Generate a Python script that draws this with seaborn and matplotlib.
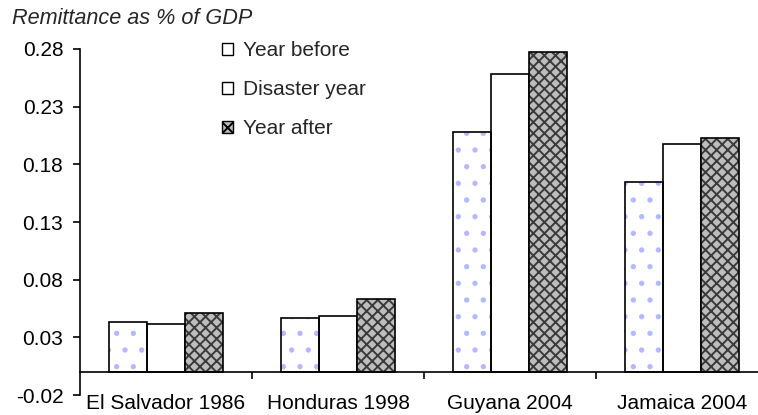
import numpy as np
import pandas as pd
import seaborn as sns
import matplotlib.pyplot as plt
from matplotlib.patches import Patch, Rectangle
from matplotlib.ticker import FormatStrFormatter

# data
countries = ["El Salvador 1986", "Honduras 1998", "Guyana 2004", "Jamaica 2004"]
periods = ["Year before", "Disaster year", "Year after"]
year_before = [0.0436, 0.047, 0.208, 0.165]
disaster_year = [0.0416, 0.0488, 0.2585, 0.1976]
year_after = [0.051, 0.063, 0.277, 0.203]
y_ticks = [-0.02, 0.03, 0.08, 0.13, 0.18, 0.23, 0.28]

df = pd.DataFrame({
    "country": countries * 3,
    "period": np.repeat(periods, len(countries)),
    "value": year_before + disaster_year + year_after,
})

sns.set_theme(style="white")
plt.rcParams["font.family"] = ["Liberation Sans", "DejaVu Sans"]
plt.rcParams["axes.unicode_minus"] = False
plt.rcParams["hatch.linewidth"] = 1.4

# (face, hatch, hatch colour) per period
styles = {
    "Year before": ("white", ".", "#b4b8ff"),
    "Disaster year": ("white", None, None),
    "Year after": ("#bdbdbd", "xxx", "#3a3a3a"),
}

fig = plt.figure(figsize=(7.58, 4.15), dpi=100)
ax = fig.add_axes([80 / 758, 20 / 415, 678 / 758, 346 / 415])

sns.barplot(
    data=df, x="country", y="value", hue="period",
    order=countries, hue_order=periods,
    palette=["white"] * 3, width=0.66, gap=0,
    edgecolor="black", linewidth=1.2, legend=False, ax=ax,
)

# hatch in its own colour, black outline drawn on top
for period, cont in zip(periods, ax.containers):
    face, hatch, hcol = styles[period]
    for bar in cont:
        bar.set_facecolor(face)
        if hatch:
            bar.set_hatch(hatch)
            bar.set_edgecolor(hcol)
            bar.set_linewidth(0)
            ax.add_patch(Rectangle(bar.get_xy(), bar.get_width(), bar.get_height(),
                                   fill=False, edgecolor="black", linewidth=1.2, zorder=bar.get_zorder() + 0.1))

ax.set_xlim(-0.5, 3.44)
ax.set_ylim(-0.02, 0.28)
ax.set_yticks(y_ticks)
ax.yaxis.set_major_formatter(FormatStrFormatter("%.2f"))
ax.set_xlabel("")
ax.set_ylabel("")

for s in ["top", "right"]:
    ax.spines[s].set_visible(False)
ax.spines["bottom"].set_position(("data", 0))
for s in ["left", "bottom"]:
    ax.spines[s].set_color("black")
    ax.spines[s].set_linewidth(1.2)

ax.set_xticks([0.5, 1.5, 2.5], minor=True)
ax.tick_params(axis="x", which="major", length=0, pad=16, labelsize=15, colors="black")
ax.tick_params(axis="x", which="minor", bottom=True, direction="out", length=5, width=1.2, color="black")
ax.tick_params(axis="y", left=True, direction="out", length=5, width=1.2, pad=7, labelsize=15, colors="black")

fig.text(12 / 758, 1 - 18 / 415, "Remittance as % of GDP", fontsize=15.6, style="italic",
         ha="left", va="center")

# legend: the small "year before" swatch shows no dots in the original
legend_hatch = {"Year before": None, "Disaster year": None, "Year after": "xxx"}
handles = []
for period in periods:
    face = styles[period][0]
    handles.append(Patch(facecolor=face, edgecolor="black", hatch=legend_hatch[period],
                         linewidth=1.0, label=period))
fig.legend(handles=handles, loc="upper left", bbox_to_anchor=(212 / 758, 1 - 31 / 415),
           frameon=False, fontsize=15, borderpad=0, handlelength=0.5, handleheight=0.5,
           handletextpad=0.5, labelspacing=0.95)

fig.savefig("out.png", dpi=100, facecolor="white")
